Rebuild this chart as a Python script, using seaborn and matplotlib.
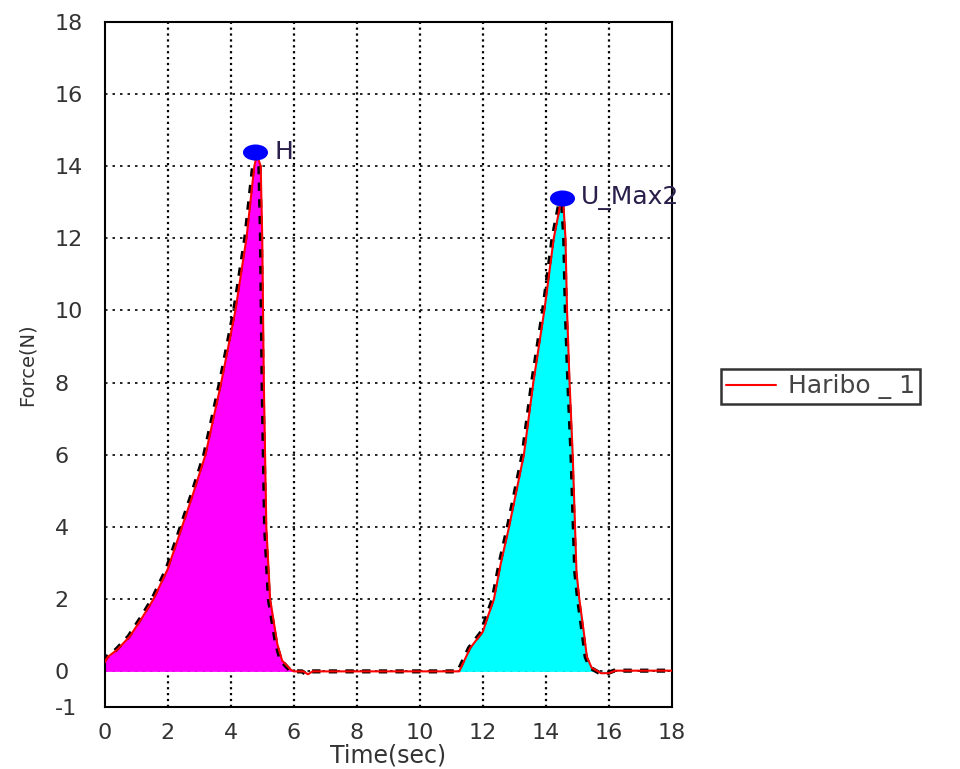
import numpy as np
import pandas as pd
import matplotlib
matplotlib.use("Agg")
import matplotlib.pyplot as plt
from matplotlib.path import Path
from matplotlib.transforms import Affine2D
import seaborn as sns

# valeurs
time_s = [0.0, 0.1, 0.4, 0.8, 1.2, 1.55, 2.0, 2.4, 2.8, 3.2, 3.7, 4.15, 4.5, 4.75, 4.83,
          4.95, 5.0, 5.05, 5.13, 5.25, 5.48, 5.63, 5.9, 6.0, 6.3, 6.45, 6.6, 7.0, 9.0, 11.0,
          11.25, 11.6, 12.0, 12.15, 12.35, 12.57, 12.83, 13.3, 13.6, 13.95, 14.25, 14.45, 14.55,
          14.62, 14.67, 14.75, 14.85, 14.97, 15.06, 15.2, 15.3, 15.45, 15.75, 16.0, 16.2, 18.0]
force_n = [0.25, 0.4, 0.6, 0.97, 1.5, 2.0, 2.83, 3.86, 4.9, 6.0, 8.0, 10.0, 12.0, 14.0, 14.3,
           14.0, 12.0, 8.0, 4.0, 2.0, 0.75, 0.3, 0.05, 0.0, 0.0, -0.08, 0.0, 0.0, 0.0, 0.0,
           0.0, 0.65, 1.1, 1.5, 2.0, 3.0, 4.0, 6.0, 8.0, 10.0, 12.0, 12.9, 13.0,
           12.0, 10.0, 8.0, 6.0, 2.75, 2.0, 1.1, 0.4, 0.1, -0.05, -0.05, 0.02, 0.02]

peaks_t = [4.78, 14.52]
peaks_f = [14.4, 13.1]
peak_labels = ["H", "U_Max2"]

zone1 = (0.0, 6.0)      # magenta
zone2 = (11.2, 16.0)    # cyan

df = pd.DataFrame({"Time": time_s, "Force": force_n})

sns.set_style("white")
plt.rcParams["axes.unicode_minus"] = False
fig = plt.figure(figsize=(9.6, 7.69), dpi=100)
ax = fig.add_axes([0.109, 0.080, 0.591, 0.892])

t = np.array(time_s)
f = np.array(force_n)
ax.fill_between(t, 0, f, where=(t >= zone1[0]) & (t <= zone1[1]), color="#ff00ff", lw=0, zorder=2)
ax.fill_between(t, 0, f, where=(t >= zone2[0]) & (t <= zone2[1]), color="#00ffff", lw=0, zorder=2)

# trait noir en pointillé sous la courbe rouge
ax.plot(t - 0.04, f, color="black", lw=3, ls=(0, (2, 2)), zorder=3)
sns.lineplot(data=df, x="Time", y="Force", color="red", lw=1.5, ax=ax,
             label="Haribo _ 1", zorder=4, sort=False)

# point ovale (plus large que haut)
ellipse = Path.unit_circle().transformed(Affine2D().scale(1.0, 0.62))
ax.plot(peaks_t, peaks_f, ls="none", marker=ellipse, color="#0000ff", ms=17, zorder=5)
for x, y, lab in zip(peaks_t, peaks_f, peak_labels):
    ax.text(x + 0.6, y, lab, fontsize=18, color="#2a1f4a", va="center", ha="left", zorder=6)

ax.set_xlim(0, 18)
ax.set_ylim(-1, 18)
ax.set_xticks(range(0, 19, 2))
ax.set_yticks([-1] + list(range(0, 19, 2)))

for xv in range(2, 18, 2):
    ax.axvline(xv, color="black", ls=":", lw=1.6, zorder=1)
for yv in range(0, 18, 2):
    ax.axhline(yv, color="black", ls=(0, (1.5, 3)), lw=1.2, zorder=1)

for s in ax.spines.values():
    s.set_color("black")
    s.set_linewidth(1.5)

ax.tick_params(axis="both", length=0, labelsize=16, labelcolor="#333333")
ax.tick_params(axis="y", pad=36)
ax.tick_params(axis="x", pad=11)
for lbl in ax.get_yticklabels():
    lbl.set_ha("left")

ax.set_xlabel("Time(sec)", fontsize=17, color="#333333")
ax.set_ylabel("Force(N)", fontsize=14, color="#333333")
ax.xaxis.set_label_coords(0.5, -0.052)
ax.yaxis.set_label_coords(-0.12, 0.5)

leg = ax.legend(loc="center left", bbox_to_anchor=(0.738, 0.497), bbox_transform=fig.transFigure,
                frameon=True, fancybox=False, fontsize=18, handlelength=2.0, borderpad=0.2,
                handletextpad=0.5)
leg.get_frame().set_edgecolor("black")
leg.get_frame().set_linewidth(1.8)
for txt in leg.get_texts():
    txt.set_color("#444444")

fig.savefig("out.png", dpi=100)
